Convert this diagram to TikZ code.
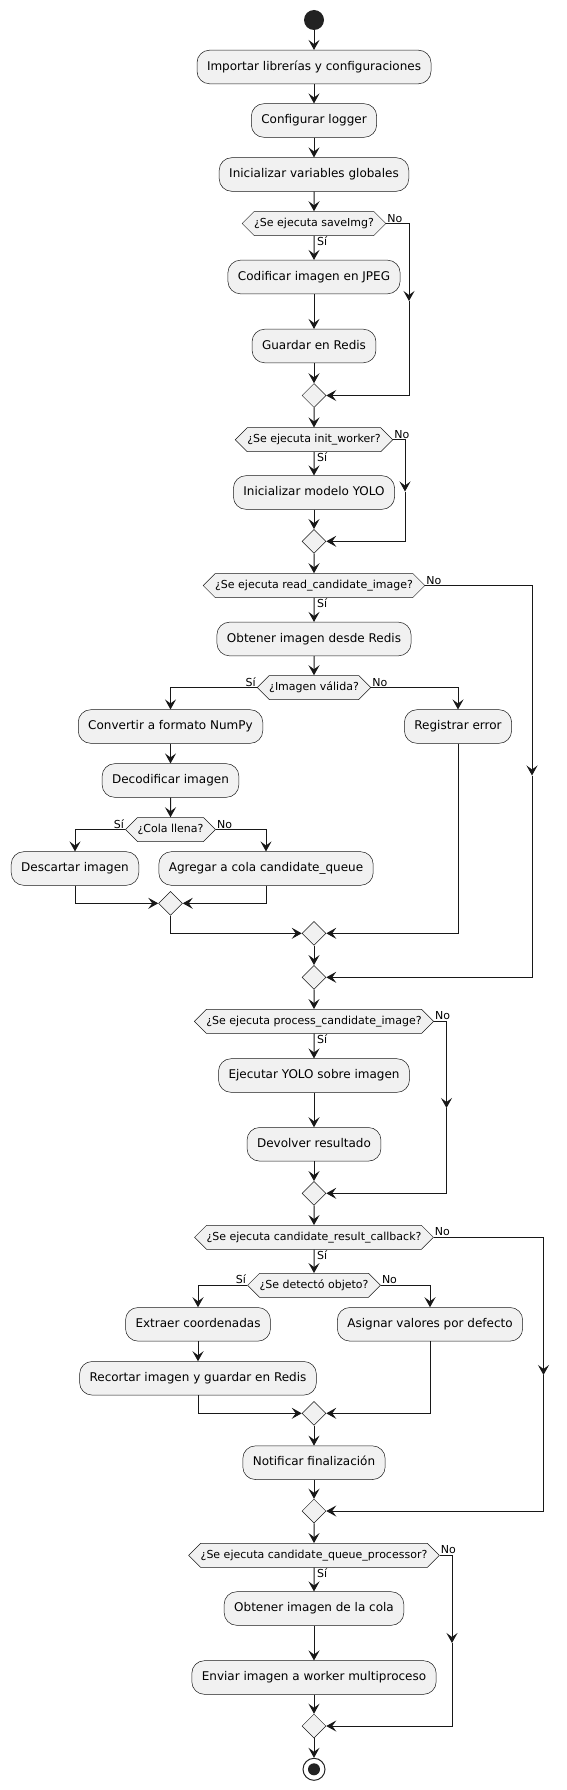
\documentclass[tikz,border=0pt]{standalone}
\usepackage{fontspec}
\setmainfont{DejaVu Sans}
\usepackage{tikz}
\usetikzlibrary{arrows.meta, shapes.geometric, shapes.symbols}
\definecolor{linegray}{HTML}{181818}
\definecolor{boxgray}{HTML}{F1F1F1}
\definecolor{dotgray}{HTML}{222222}

\tikzset{
  activity/.style={draw=linegray, fill=boxgray, rounded corners=12.5pt, line width=0.5pt,
    font=\fontsize{12}{14}\selectfont, text height=9pt, text depth=2.6pt,
    inner xsep=10pt, inner ysep=11pt},
  decision/.style={shape=signal, signal to=west and east, signal pointer angle=90,
    draw=linegray, fill=boxgray, line width=0.5pt, font=\fontsize{11}{13}\selectfont,
    inner xsep=0pt, text height=8.2pt, text depth=2.4pt, inner ysep=6.7pt},
  merge/.style={diamond, draw=linegray, fill=boxgray, line width=0.5pt,
    minimum width=24pt, minimum height=24pt, inner sep=0pt},
  guard/.style={font=\fontsize{11}{13}\selectfont, inner sep=1pt},
  flow/.style={-{Stealth[length=10pt, width=11pt, inset=4pt]}, line width=1pt, draw=linegray}
}

\begin{document}
\begin{tikzpicture}[x=1pt, y=-1pt]

  \useasboundingbox (0, 0) rectangle (567, 1790);

  % start
  \node[circle, fill=dotgray, minimum size=20pt, inner sep=0pt] (start) at (314, 20) {};

  \node[activity] (import) at (314, 67) {Importar librerías y configuraciones};
  \node[activity] (logger) at (314, 120.5) {Configurar logger};
  \node[activity] (globals) at (314, 174.5) {Inicializar variables globales};

  % saveImg
  \node[decision] (saveimg) at (314, 223.5) {¿Se ejecuta saveImg?};
  \node[activity] (encode) at (314, 277) {Codificar imagen en JPEG};
  \node[activity] (store) at (314, 346) {Guardar en Redis};
  \node[merge] (mergeA) at (314, 395.5) {};
  \coordinate (skipA) at (409, 301);

  % init_worker
  \node[decision] (initw) at (314, 439.7) {¿Se ejecuta init\_worker?};
  \node[activity] (yolo) at (314, 492.5) {Inicializar modelo YOLO};
  \node[merge] (mergeB) at (314, 541.3) {};
  \coordinate (skipB) at (405, 491.5);

  % read_candidate_image
  \node[decision] (readc) at (314, 585.5) {¿Se ejecuta read\_candidate\_image?};
  \node[activity] (fetch) at (314, 639) {Obtener imagen desde Redis};
  \node[decision] (valid) at (314, 687.5) {¿Imagen válida?};
  \node[activity] (numpy) at (170.5, 726.5) {Convertir a formato NumPy};
  \node[activity] (logerr) at (458, 726.5) {Registrar error};
  \node[activity] (decode) at (170.5, 780.5) {Decodificar imagen};
  \node[decision] (full) at (170.5, 829.5) {¿Cola llena?};
  \node[activity] (drop) at (75, 868.5) {Descartar imagen};
  \node[activity] (enqueue) at (266, 868.5) {Agregar a cola candidate\_queue};
  \node[merge] (mergeC) at (170.5, 903.3) {};
  \node[merge] (mergeD) at (314, 933.3) {};
  \node[merge] (mergeE) at (314, 977.3) {};
  \coordinate (skipC) at (532, 775.5);

  % process_candidate_image
  \node[decision] (procc) at (314, 1021.3) {¿Se ejecuta process\_candidate\_image?};
  \node[activity] (runyolo) at (314, 1075.5) {Ejecutar YOLO sobre imagen};
  \node[activity] (result) at (314, 1144.3) {Devolver resultado};
  \node[merge] (mergeF) at (314, 1193.3) {};
  \coordinate (skipD) at (446.5, 1108);

  % candidate_result_callback
  \node[decision] (callb) at (314, 1237.3) {¿Se ejecuta candidate\_result\_callback?};
  \node[decision] (found) at (314, 1285.3) {¿Se detectó objeto?};
  \node[activity] (coords) at (198, 1324.3) {Extraer coordenadas};
  \node[activity] (defaults) at (430, 1324.3) {Asignar valores por defecto};
  \node[activity] (crop) at (198, 1378.3) {Recortar imagen y guardar en Redis};
  \node[merge] (mergeG) at (314, 1413.3) {};
  \node[activity] (notify) at (314, 1462.7) {Notificar finalización};
  \node[merge] (mergeH) at (314, 1511) {};
  \coordinate (skipE) at (543.5, 1375);

  % candidate_queue_processor
  \node[decision] (queuep) at (314, 1555.3) {¿Se ejecuta candidate\_queue\_processor?};
  \node[activity] (pop) at (314, 1608.5) {Obtener imagen de la cola};
  \node[activity] (send) at (314, 1677.5) {Enviar imagen a worker multiproceso};
  \node[merge] (mergeI) at (314, 1726) {};
  \coordinate (skipF) at (452, 1643);

  % end
  \node[circle, draw=dotgray, line width=1pt, fill=white, minimum size=22pt, inner sep=0pt] (stop) at (314, 1769.3) {};
  \node[circle, fill=dotgray, minimum size=12pt, inner sep=0pt] (stopdot) at (stop) {};

  % guards
  \node[guard, anchor=north west] (yesA) at ([xshift=2pt]saveimg.south) {Sí};
  \node[guard, anchor=south west] (noA) at (saveimg.east) {No};
  \node[guard, anchor=north west] (yesB) at ([xshift=2pt]initw.south) {Sí};
  \node[guard, anchor=south west] (noB) at (initw.east) {No};
  \node[guard, anchor=north west] (yesC) at ([xshift=2pt]readc.south) {Sí};
  \node[guard, anchor=south west] (noC) at (readc.east) {No};
  \node[guard, anchor=south east] (yesV) at (valid.west) {Sí};
  \node[guard, anchor=south west] (noV) at (valid.east) {No};
  \node[guard, anchor=south east] (yesF) at (full.west) {Sí};
  \node[guard, anchor=south west] (noF) at (full.east) {No};
  \node[guard, anchor=north west] (yesD) at ([xshift=2pt]procc.south) {Sí};
  \node[guard, anchor=south west] (noD) at (procc.east) {No};
  \node[guard, anchor=north west] (yesE) at ([xshift=2pt]callb.south) {Sí};
  \node[guard, anchor=south west] (noE) at (callb.east) {No};
  \node[guard, anchor=south east] (yesO) at (found.west) {Sí};
  \node[guard, anchor=south west] (noO) at (found.east) {No};
  \node[guard, anchor=north west] (yesQ) at ([xshift=2pt]queuep.south) {Sí};
  \node[guard, anchor=south west] (noQ) at (queuep.east) {No};

  % connectors
  \draw[flow] (start) -- (import);
  \draw[flow] (import) -- (logger);
  \draw[flow] (logger) -- (globals);
  \draw[flow] (globals) -- (saveimg);

  \draw[flow] (saveimg) -- (encode);
  \draw[flow] (encode) -- (store);
  \draw[flow] (store) -- (mergeA);
  \draw[flow] (saveimg.east) -| (skipA);
  \draw[flow] (skipA) |- (mergeA.east);
  \draw[flow] (mergeA) -- (initw);

  \draw[flow] (initw) -- (yolo);
  \draw[flow] (yolo) -- (mergeB);
  \draw[flow] (initw.east) -| (skipB);
  \draw[flow] (skipB) |- (mergeB.east);
  \draw[flow] (mergeB) -- (readc);

  \draw[flow] (readc) -- (fetch);
  \draw[flow] (fetch) -- (valid);
  \draw[flow] (valid.west) -| (numpy);
  \draw[flow] (valid.east) -| (logerr);
  \draw[flow] (numpy) -- (decode);
  \draw[flow] (decode) -- (full);
  \draw[flow] (full.west) -| (drop);
  \draw[flow] (full.east) -| (enqueue);
  \draw[flow] (drop) |- (mergeC.west);
  \draw[flow] (enqueue) |- (mergeC.east);
  \draw[flow] (mergeC) |- (mergeD.west);
  \draw[flow] (logerr) |- (mergeD.east);
  \draw[flow] (mergeD) -- (mergeE);
  \draw[flow] (readc.east) -| (skipC);
  \draw[flow] (skipC) |- (mergeE.east);
  \draw[flow] (mergeE) -- (procc);

  \draw[flow] (procc) -- (runyolo);
  \draw[flow] (runyolo) -- (result);
  \draw[flow] (result) -- (mergeF);
  \draw[flow] (procc.east) -| (skipD);
  \draw[flow] (skipD) |- (mergeF.east);
  \draw[flow] (mergeF) -- (callb);

  \draw[flow] (callb) -- (found);
  \draw[flow] (found.west) -| (coords);
  \draw[flow] (found.east) -| (defaults);
  \draw[flow] (coords) -- (crop);
  \draw[flow] (crop) |- (mergeG.west);
  \draw[flow] (defaults) |- (mergeG.east);
  \draw[flow] (mergeG) -- (notify);
  \draw[flow] (notify) -- (mergeH);
  \draw[flow] (callb.east) -| (skipE);
  \draw[flow] (skipE) |- (mergeH.east);
  \draw[flow] (mergeH) -- (queuep);

  \draw[flow] (queuep) -- (pop);
  \draw[flow] (pop) -- (send);
  \draw[flow] (send) -- (mergeI);
  \draw[flow] (queuep.east) -| (skipF);
  \draw[flow] (skipF) |- (mergeI.east);
  \draw[flow] (mergeI) -- (stop);

\end{tikzpicture}
\end{document}
